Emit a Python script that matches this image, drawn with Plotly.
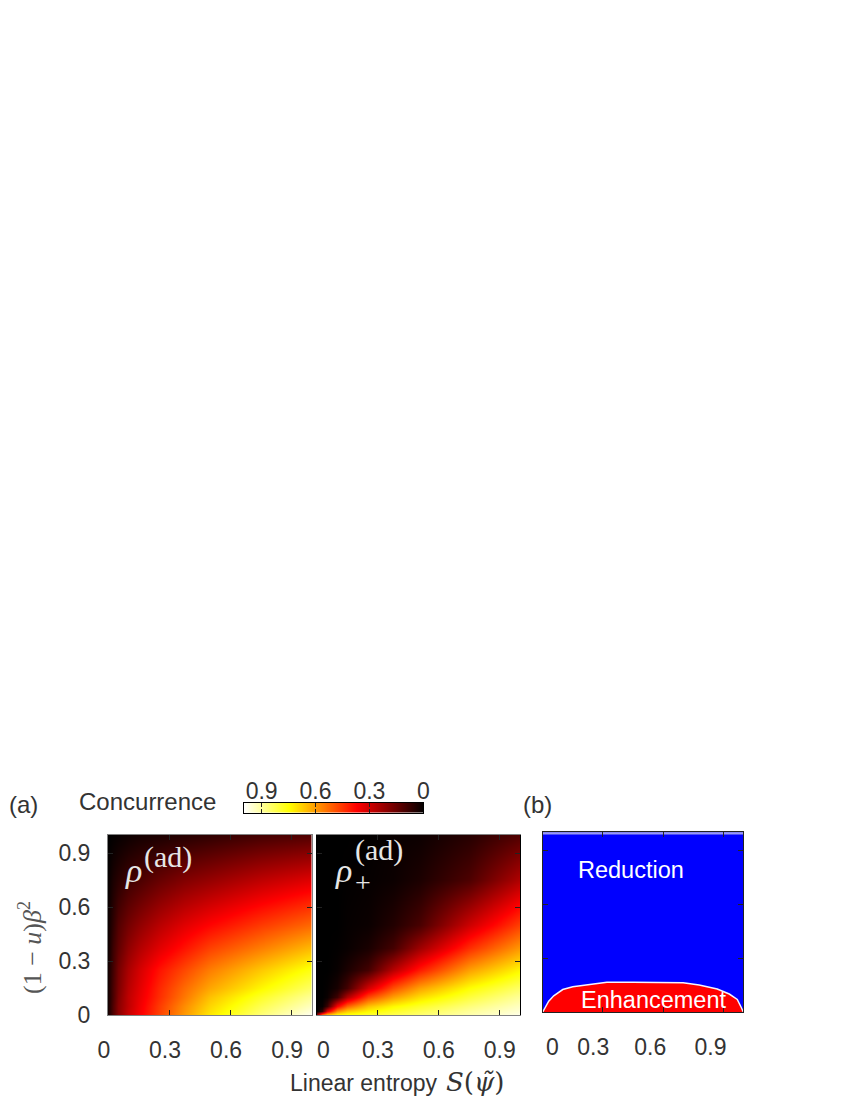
"""
Concurrence maps for the amplitude-damped states and the
enhancement / reduction region.
"""

import plotly.graph_objects as go

# linear entropy S (x) and damping (1-u)beta^2 (y) sample points
s_grid = [0.0, 0.025, 0.05, 0.1, 0.15, 0.25, 0.375, 0.5, 0.75, 1.0]
p_grid = [0.0, 0.025, 0.05, 0.1, 0.15, 0.25, 0.375, 0.5, 0.75, 1.0]

# concurrence of rho^(ad) (a) left; rows follow p_grid
conc_ad = [
    [0.03, 0.12, 0.20, 0.29, 0.36, 0.47, 0.60, 0.72, 0.87, 0.99],
    [0.03, 0.12, 0.20, 0.29, 0.355, 0.465, 0.59, 0.705, 0.85, 0.965],
    [0.03, 0.12, 0.20, 0.28, 0.35, 0.46, 0.58, 0.69, 0.83, 0.94],
    [0.03, 0.11, 0.19, 0.28, 0.34, 0.44, 0.55, 0.66, 0.79, 0.90],
    [0.03, 0.11, 0.18, 0.27, 0.33, 0.43, 0.53, 0.62, 0.74, 0.85],
    [0.03, 0.10, 0.17, 0.25, 0.31, 0.40, 0.48, 0.56, 0.67, 0.77],
    [0.02, 0.09, 0.14, 0.21, 0.26, 0.33, 0.40, 0.47, 0.56, 0.65],
    [0.02, 0.07, 0.12, 0.17, 0.21, 0.27, 0.33, 0.38, 0.46, 0.53],
    [0.01, 0.04, 0.06, 0.09, 0.11, 0.15, 0.19, 0.22, 0.28, 0.33],
    [0.00, 0.005, 0.01, 0.02, 0.03, 0.04, 0.055, 0.07, 0.10, 0.12],
]

# concurrence of rho_+^(ad), panel (a) right
conc_plus = [
    [0.25, 0.60, 0.70, 0.76, 0.78, 0.80, 0.83, 0.86, 0.92, 0.98],
    [0.00, 0.07, 0.33, 0.58, 0.67, 0.74, 0.79, 0.83, 0.90, 0.96],
    [0.00, 0.01, 0.085, 0.37, 0.52, 0.66, 0.74, 0.79, 0.87, 0.94],
    [0.00, 0.00, 0.015, 0.094, 0.26, 0.48, 0.61, 0.70, 0.81, 0.90],
    [0.00, 0.00, 0.007, 0.035, 0.10, 0.31, 0.49, 0.61, 0.75, 0.85],
    [0.00, 0.00, 0.00, 0.012, 0.04, 0.10, 0.27, 0.41, 0.61, 0.74],
    [0.00, 0.00, 0.00, 0.004, 0.012, 0.037, 0.10, 0.23, 0.44, 0.60],
    [0.00, 0.00, 0.00, 0.00, 0.008, 0.016, 0.05, 0.105, 0.30, 0.47],
    [0.00, 0.00, 0.00, 0.00, 0.003, 0.008, 0.017, 0.04, 0.113, 0.26],
    [0.00, 0.00, 0.00, 0.00, 0.00, 0.004, 0.012, 0.018, 0.056, 0.12],
]

# boundary of the enhancement region, panel (b)
bound_s = [0.0, 0.01, 0.03, 0.055, 0.1, 0.15, 0.22, 0.32, 0.45, 0.55,
           0.7, 0.78, 0.87, 0.93, 0.97, 0.99, 1.0]
bound_p = [0.0, 0.02, 0.06, 0.09, 0.125, 0.14, 0.152, 0.165, 0.166, 0.165,
           0.163, 0.15, 0.128, 0.1, 0.07, 0.025, 0.0]

# colour bar levels
cbar_levels = [0.0, 0.1, 0.2, 0.3, 0.4, 0.5, 0.6, 0.7, 0.8, 0.9, 1.0]

tick_vals = [0, 0.3, 0.6, 0.9]
tick_text = ["0", "0.3", "0.6", "0.9"]
NB = "\u00a0"
# labels under the middle and right panels sit a little off their ticks
tick_text_mid = [NB * 2 + "0", "0.3", "0.6", "0.9"]
tick_text_right = [NB * 3 + "0", "0.3" + NB * 3, "0.6" + NB * 4, "0.9" + NB * 4]

hot = [[0, "#000000"], [0.375, "#ff0000"], [0.75, "#ffff00"], [1, "#ffffff"]]

W, H = 850, 1100
DX, DY = 8, 8  # page offset of the graph div (body margin)


def px(x):
    return (x - DX) / W


def py(y):
    return 1 - (y - DY) / H


SANS = "Liberation Sans, Arial, sans-serif"
SERIF = "Liberation Serif, Times New Roman, serif"
TXT = "#333333"

fig = go.Figure()

fig.add_trace(go.Heatmap(x=s_grid, y=p_grid, z=conc_ad, colorscale=hot,
                         zmin=0, zmax=1, zsmooth="best", showscale=False,
                         xaxis="x", yaxis="y"))
fig.add_trace(go.Heatmap(x=s_grid, y=p_grid, z=conc_plus, colorscale=hot,
                         zmin=0, zmax=1, zsmooth="best", showscale=False,
                         xaxis="x2", yaxis="y2"))
fig.add_trace(go.Scatter(x=bound_s, y=bound_p, mode="lines", fill="tozeroy",
                         fillcolor="#ff0000", line=dict(color="#f4f4ff", width=1.5),
                         showlegend=False, hoverinfo="skip",
                         xaxis="x3", yaxis="y3"))
fig.add_trace(go.Heatmap(x=cbar_levels, y=[0, 1], z=[cbar_levels, cbar_levels],
                         colorscale=hot, zmin=0, zmax=1, zsmooth="best",
                         showscale=False, xaxis="x4", yaxis="y4"))

axis_common = dict(ticks="inside", ticklen=5, tickcolor="#222", mirror="ticks",
                   showline=True, linewidth=1, showgrid=False, zeroline=False,
                   automargin=False, tickangle=0,
                   tickfont=dict(family=SANS, size=23, color=TXT))

y_dom = [py(1015), py(835)]

fig.update_layout(
    width=W, height=H,
    margin=dict(l=0, r=0, t=0, b=0, autoexpand=False),
    paper_bgcolor="white",
    plot_bgcolor="white",
    showlegend=False,
    xaxis=dict(domain=[px(108), px(311.5)], range=[0, 1], tickvals=tick_vals,
               ticktext=tick_text, linecolor="#808080", anchor="y",
               ticklabelstandoff=14, ticklabelshift=-4, **axis_common),
    yaxis=dict(domain=y_dom, range=[0, 1], tickvals=tick_vals,
               ticktext=tick_text, linecolor="#808080", anchor="x",
               ticklabelstandoff=12, **axis_common),
    xaxis2=dict(domain=[px(317), px(520)], range=[0, 1], tickvals=tick_vals,
                ticktext=tick_text_mid, linecolor="#808080", anchor="y2",
                ticklabelstandoff=14, **axis_common),
    yaxis2=dict(domain=y_dom, range=[0, 1], tickvals=tick_vals,
                showticklabels=False, linecolor="#000000", anchor="x2",
                **axis_common),
    xaxis3=dict(domain=[px(542.7), px(743.3)], range=[0, 1], tickvals=tick_vals,
                ticktext=tick_text_right, linecolor="#222", anchor="y3",
                ticklabelstandoff=14, **axis_common),
    yaxis3=dict(domain=[py(1012), py(832.3)], range=[0, 1], tickvals=tick_vals,
                showticklabels=False, linecolor="#222", anchor="x3",
                **axis_common),
    xaxis4=dict(domain=[px(243.7), px(423.3)], range=[1, 0], tickvals=tick_vals,
                ticktext=tick_text, side="top", anchor="y4", ticks="inside",
                ticklen=4, tickcolor="#222", mirror="ticks", showline=True,
                linecolor="#000", linewidth=1, showgrid=False, zeroline=False,
                ticklabelstandoff=-6, automargin=False, tickangle=0,
                tickfont=dict(family=SANS, size=23, color=TXT)),
    yaxis4=dict(domain=[py(812.7), py(802.7)], range=[0, 1], showticklabels=False,
                ticks="", showline=True, linecolor="#000", linewidth=1,
                mirror=True, showgrid=False, zeroline=False, anchor="x4",
                automargin=False),
    shapes=[
        # blue background of panel (b) and the pale strip along its top
        dict(type="rect", xref="x3 domain", yref="y3 domain", x0=0, x1=1, y0=0, y1=1,
             fillcolor="#0000ff", line=dict(width=0), layer="below"),
        dict(type="rect", xref="x3 domain", yref="y3 domain", x0=0, x1=1, y0=0.988, y1=1,
             fillcolor="#9a9af2", line=dict(width=0), layer="below"),
    ],
)

annotations = [
    dict(text="(a)", x=px(23), y=py(804), font=dict(family=SANS, size=24, color=TXT)),
    dict(text="Concurrence", x=px(147), y=py(801), font=dict(family=SANS, size=24, color=TXT)),
    dict(text="(b)", x=px(537), y=py(805), font=dict(family=SANS, size=24, color=TXT)),
    dict(text="(1 − <i>u</i>)<i>β</i><sup>2</sup>", x=px(30), y=py(948), textangle=-90,
         font=dict(family=SERIF, size=26, color="#555555")),
    dict(text="Linear entropy", x=px(364), y=py(1083), font=dict(family=SANS, size=23, color=TXT)),
    dict(text="<i>S</i>(<i>ψ̃</i>)", x=px(476), y=py(1082),
         font=dict(family="DejaVu Serif, serif", size=26, color=TXT)),
    dict(text="<i>ρ</i>", x=px(133), y=py(870), font=dict(family=SERIF, size=34, color="#e6e6e6")),
    dict(text="(ad)", x=px(168), y=py(857), font=dict(family=SERIF, size=30, color="#e6e6e6")),
    dict(text="<i>ρ</i>", x=px(343), y=py(870), font=dict(family=SERIF, size=34, color="#e6e6e6")),
    dict(text="(ad)", x=px(379), y=py(850), font=dict(family=SERIF, size=30, color="#e6e6e6")),
    dict(text="+", x=px(363), y=py(882), font=dict(family=SERIF, size=28, color="#e6e6e6")),
    dict(text="Reduction", x=0.44, y=0.79, xref="x3", yref="y3",
         font=dict(family=SANS, size=23.5, color="white")),
    dict(text="Enhancement", x=0.55, y=0.065, xref="x3", yref="y3",
         font=dict(family=SANS, size=23.5, color="white")),
]
for a in annotations:
    a.setdefault("xref", "paper")
    a.setdefault("yref", "paper")
    a.update(showarrow=False, xanchor="center", yanchor="middle")
fig.update_layout(annotations=annotations)

fig.write_html("out.html")
